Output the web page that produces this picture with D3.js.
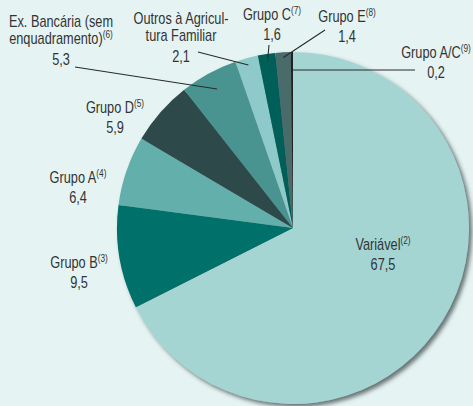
<!DOCTYPE html>
<html>
<head>
<meta charset="utf-8">
<script src="https://cdn.jsdelivr.net/npm/d3@7"></script>
<style>
  html, body { margin: 0; padding: 0; background: #e5f3f3; }
  svg { display: block; }
  text { font-family: "Liberation Sans", Arial, sans-serif; fill: #333; }
</style>
</head>
<body>
<svg id="chart" width="473" height="406"></svg>
<script>
// Slice categories, their note numbers and shares (%)
const categories = ["Variável", "Grupo B", "Grupo A", "Grupo D", "Ex. Bancária (sem enquadramento)",
                    "Outros à Agricultura Familiar", "Grupo C", "Grupo E", "Grupo A/C"];
const notes = ["2", "3", "4", "5", "6", "", "7", "8", "9"];
const values = [67.5, 9.5, 6.4, 5.9, 5.3, 2.1, 1.6, 1.4, 0.2];
const valueLabels = ["67,5", "9,5", "6,4", "5,9", "5,3", "2,1", "1,6", "1,4", "0,2"];
const colors = ["#a5d5d3", "#00706a", "#63afab", "#2e4a4a", "#4a9490", "#8dcac9", "#005e59", "#4a6c6b", "#222"];

// Label text lines per slice (name lines, then value line)
const labelLines = [
  ["Variável"], ["Grupo B"], ["Grupo A"], ["Grupo D"],
  ["Ex. Bancária (sem", "enquadramento)"], ["Outros à Agricul-", "tura Familiar"],
  ["Grupo C"], ["Grupo E"], ["Grupo A/C"]
];

const svg = d3.select("#chart");
const cx = 293, cy = 228, R = 176;

const defs = svg.append("defs");
const f = defs.append("filter").attr("id", "shadow")
  .attr("x", "-10%").attr("y", "-10%").attr("width", "125%").attr("height", "125%");
f.append("feDropShadow").attr("dx", 3).attr("dy", 3).attr("stdDeviation", 2.2)
  .attr("flood-color", "#3c4a4a").attr("flood-opacity", 0.75);

const pie = d3.pie().sort(null).value(d => d).startAngle(0).endAngle(2 * Math.PI);
const arcs = pie(values);
const arc = d3.arc().innerRadius(0).outerRadius(R);

const g = svg.append("g").attr("transform", `translate(${cx},${cy})`);
const pieG = g.append("g").attr("filter", "url(#shadow)");
pieG.selectAll("path").data(arcs).join("path")
  .attr("d", arc)
  .attr("fill", (d, i) => colors[i]);

// Leader lines: from label side to a point inside the slice (radius fraction)
const leaders = {
  4: { from: [75, 67], r: 0.90 },
  5: { from: [198, 52], r: 0.96 },
  6: { from: [269, 45], r: 0.96 },
  7: { from: [325, 30], r: 0.97 },
  8: { from: [415, 70], r: 0.89 }
};
Object.entries(leaders).forEach(([k, o]) => {
  const a = arcs[+k];
  const mid = (a.startAngle + a.endAngle) / 2;
  const px = cx + Math.sin(mid) * R * o.r;
  const py = cy - Math.cos(mid) * R * o.r;
  svg.append("line")
    .attr("x1", o.from[0]).attr("y1", o.from[1])
    .attr("x2", +k === 8 ? px + 1 : px).attr("y2", +k === 8 ? o.from[1] : py)
    .attr("stroke", "#2a2a2a").attr("stroke-width", 1.1);
});

// Label anchor: centre x and first baseline, per slice
const labelPos = [
  [383, 250], [79, 268], [78, 183], [115, 113],
  [61, 27], [181, 24], [272, 20], [347, 22], [436, 58]
];
const lineH = 17, fs = 17, narrow = 0.75;

labelLines.forEach((lines, i) => {
  const [x, y] = labelPos[i];
  // condensed lettering: horizontal squeeze around the label centre
  const t = svg.append("g").attr("transform", `translate(${x},${y}) scale(${narrow},1)`);
  lines.forEach((ln, j) => {
    const isLast = j === lines.length - 1;
    const tx = t.append("text")
      .attr("x", 0).attr("y", j * lineH)
      .attr("text-anchor", "middle")
      .attr("font-size", fs);
    tx.append("tspan").text(ln);
    if (isLast && notes[i]) {
      tx.append("tspan").attr("dy", -6).attr("font-size", 11).text(`(${notes[i]})`);
    }
  });
  t.append("text")
    .attr("x", 0).attr("y", lines.length * lineH + (lines.length > 1 ? 4 : 3))
    .attr("text-anchor", "middle")
    .attr("font-size", fs)
    .text(valueLabels[i]);
});
</script>
</body>
</html>
